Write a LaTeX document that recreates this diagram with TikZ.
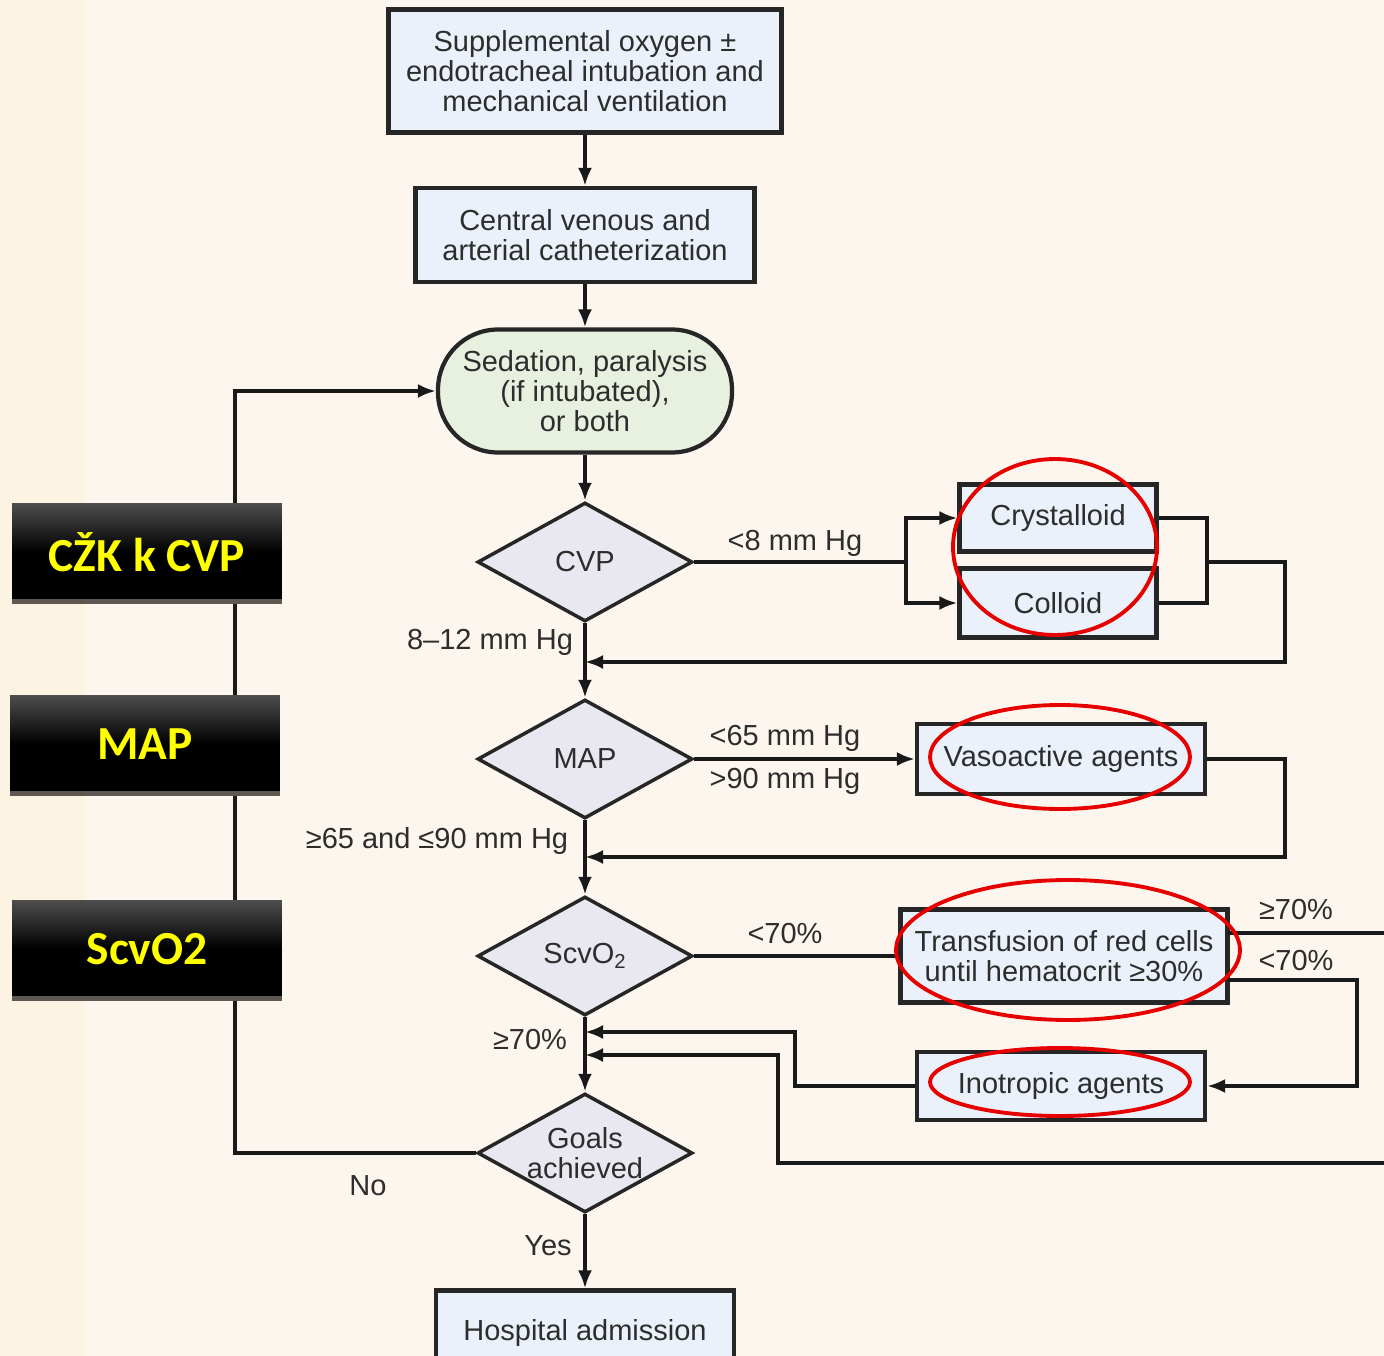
\documentclass[tikz,border=0pt]{standalone}
\usepackage{fontspec}
\setmainfont{Liberation Sans}
\newfontfamily\labfont{Carlito}
\usetikzlibrary{arrows.meta,positioning,shapes.geometric}
\definecolor{PageBg}{RGB}{253,246,238}
\definecolor{StripBg}{RGB}{252,243,226}
\definecolor{BoxBlue}{RGB}{234,241,250}
\definecolor{BoxGreen}{RGB}{232,240,223}
\definecolor{BoxLilac}{RGB}{233,232,240}
\definecolor{InkGrey}{RGB}{45,45,45}
\definecolor{LabTop}{RGB}{78,78,78}
\definecolor{LabEdge}{RGB}{95,88,82}
\definecolor{RingRed}{RGB}{230,0,0}
\definecolor{LabYellow}{RGB}{255,255,0}

\begin{document}
\begin{tikzpicture}[x=0.02cm,y=-0.02cm,
every node/.style={font=\fontsize{16.5}{17}\selectfont,text=InkGrey},
box/.style={draw=black!85,line width=2.4pt,fill=BoxBlue,align=center,inner sep=0pt},
sedbox/.style={box,fill=BoxGreen,rounded corners=1.2cm},
test/.style={diamond,draw=black!85,line width=2pt,fill=BoxLilac,aspect=1.8,inner sep=0pt,minimum width=4.3cm,minimum height=2.38cm,align=center},
lbl/.style={inner sep=1pt},
arr/.style={-{Latex[length=3.6mm,width=2.8mm]},line width=2pt,draw=black!90},
link/.style={line width=2pt,draw=black!90},
tag/.style={top color=LabTop,bottom color=black,middle color=black,minimum width=5.4cm,minimum height=1.96cm,font=\labfont\bfseries\fontsize{27}{30}\selectfont,text=LabYellow},
ring/.style={draw=RingRed,line width=2.2pt}
]
\useasboundingbox (0,0) rectangle (1384,1356);
\clip (0,0) rectangle (1384,1356);
\fill[PageBg] (0,0) rectangle (1384,1356);
\fill[StripBg] (0,0) rectangle (85,1356);

% main column
\node[box,minimum width=7.86cm,minimum height=2.46cm] (sup) at (585,71) {Supplemental oxygen ±\\endotracheal intubation and\\mechanical ventilation};
\node[box,minimum width=6.78cm,minimum height=1.88cm] (cvc) at (585,235) {Central venous and\\arterial catheterization};
\node[sedbox,minimum width=5.88cm,minimum height=2.46cm] (sed) at (585,391) {Sedation, paralysis\\(if intubated),\\or both};
\node[test] (cvp) at (585,562) {CVP};
\node[test] (map) at (585,759) {MAP};
\node[test] (scv) at (585,956) {ScvO\textsubscript{2}};
\node[test] (goal) at (585,1153) {Goals\\achieved};
\node[box,minimum width=5.96cm,minimum height=1.7cm] (hosp) at (585,1333) {Hospital admission};

% side boxes
\node[box,minimum width=3.94cm,minimum height=1.34cm] (cry) at (1058,518) {Crystalloid};
\node[box,minimum width=3.94cm,minimum height=1.38cm] (col) at (1058,603) {Colloid};
\node[box,minimum width=5.76cm,minimum height=1.4cm] (vaso) at (1061,759) {Vasoactive agents};
\node[box,minimum width=6.54cm,minimum height=1.86cm] (trans) at (1064,956) {Transfusion of red cells\\until hematocrit ≥30\%};
\node[box,minimum width=5.76cm,minimum height=1.36cm] (ino) at (1061,1086) {Inotropic agents};

% turning points
\coordinate (split) at (906,562);
\coordinate (join) at (1207,562);
\coordinate (cvpturn) at (1285,562);
\coordinate (cvpret) at (585,662);
\coordinate (mapturn) at (1285,857);
\coordinate (mapret) at (585,857);
\coordinate (trhi) at (1228,933);
\coordinate (trout) at (1390,933);
\coordinate (trlo) at (1228,980);
\coordinate (inoturn) at (1357,1086);
\coordinate (inoback) at (795,1032);
\coordinate (scvret) at (585,1032);
\coordinate (loopin) at (1390,1163);
\coordinate (loopturn) at (778,1055);
\coordinate (loopret) at (585,1055);
\coordinate (noturn) at (235,1153);

\draw[arr] (sup) -- (cvc);
\draw[arr] (cvc) -- (sed);
\draw[arr] (sed) -- (cvp);
\draw[link] (cvp.east) -- (split);
\draw[arr] (split) |- (cry.west);
\draw[arr] (split) |- (col.west);
\draw[link] (cry.east) -| (join) |- (col.east);
\draw[arr] (join) -- (cvpturn) |- (cvpret);
\draw[arr] (cvp) -- (map);
\draw[arr] (map) -- (vaso);
\draw[arr] (vaso.east) -| (mapturn) -- (mapret);
\draw[arr] (map) -- (scv);
\draw[link] (scv) -- (trans);
\draw[link] (trhi) -- (trout);
\draw[arr] (trlo) -| (inoturn) -- (ino.east);
\draw[arr] (ino.west) -| (inoback) -- (scvret);
\draw[arr] (loopin) -| (loopturn) -- (loopret);
\draw[arr] (scv) -- (goal);
\draw[arr] (goal.west) -- (noturn) |- (sed.west);
\draw[arr] (goal) -- (hosp);

% labels
\node[lbl] at (795,543) {<8 mm Hg};
\node[lbl] at (490,642) {8–12 mm Hg};
\node[lbl] at (785,738) {<65 mm Hg};
\node[lbl] at (785,781) {>90 mm Hg};
\node[lbl] at (437,841) {≥65 and ≤90 mm Hg};
\node[lbl] at (785,934) {<70\%};
\node[lbl] at (1296,910) {≥70\%};
\node[lbl] at (1296,961) {<70\%};
\node[lbl] at (530,1040) {≥70\%};
\node[lbl] at (368,1186) {No};
\node[lbl] at (548,1246) {Yes};

% black tags
\node[tag] (tcvp) at (147,552) {CŽK k CVP};
\node[tag] (tmap) at (145,744) {MAP};
\node[tag] (tscv) at (147,949) {ScvO2};
\draw[LabEdge,line width=3pt] (tcvp.south west) -- (tcvp.south east);
\draw[LabEdge,line width=3pt] (tmap.south west) -- (tmap.south east);
\draw[LabEdge,line width=3pt] (tscv.south west) -- (tscv.south east);

% red rings
\draw[ring] (1055,547) ellipse [x radius=2.04cm,y radius=1.76cm];
\draw[ring] (1060,757) ellipse [x radius=2.6cm,y radius=1.04cm];
\draw[ring] (1068,950) ellipse [x radius=3.44cm,y radius=1.4cm];
\draw[ring] (1060,1082) ellipse [x radius=2.6cm,y radius=0.68cm];
\end{tikzpicture}
\end{document}
